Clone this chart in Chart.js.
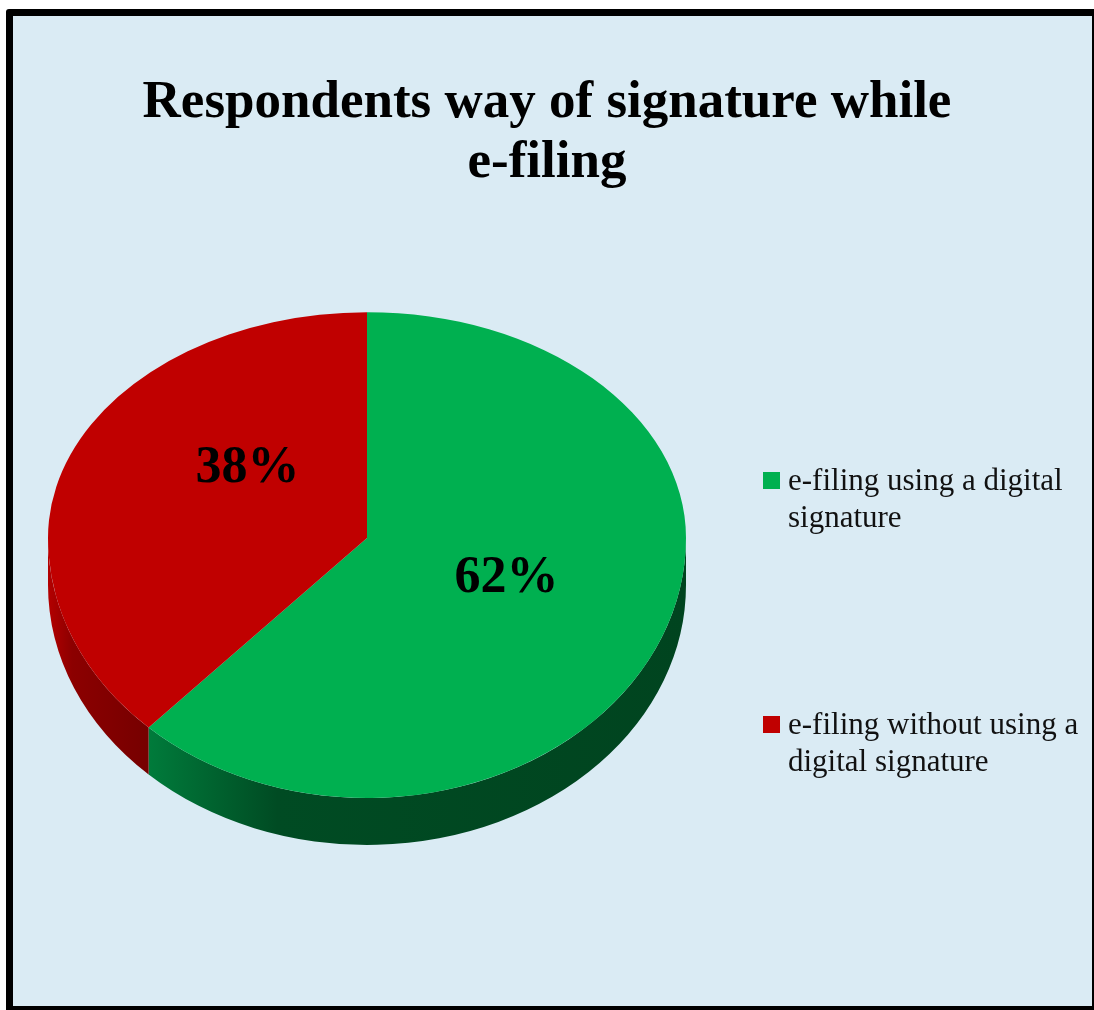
<!DOCTYPE html>
<html>
<head>
<meta charset="utf-8">
<script src="https://cdn.jsdelivr.net/npm/chart.js@4.4.1/dist/chart.umd.min.js"></script>
<style>
  html, body { margin: 0; padding: 0; background: #fff; }
  #frame {
    position: absolute; left: 6px; top: 9px;
    width: 1079px; height: 990px;
    border: 7px solid #000; border-radius: 3px;
    background: #daebf4;
  }
  #title {
    position: absolute; left: 0; top: 69px; width: 1094px;
    text-align: center; color: #000;
    font: bold 53px/60px "Liberation Serif", "Times New Roman", serif;
  }
  #chart { position: absolute; left: 0; top: 0; }
  #legend {
    position: absolute; left: 763px; top: 0;
    font: 31px/36.5px "Liberation Serif", "Times New Roman", serif; color: #111;
  }
  .item { position: absolute; left: 0; width: 330px; }
  .swatch { position: absolute; left: 0; top: 10px; width: 17px; height: 17px; }
  .text { margin-left: 25px; width: 300px; }
</style>
</head>
<body>
<div id="frame"></div>
<div id="title"></div>
<canvas id="chart" width="1094" height="1010"></canvas>
<div id="legend"></div>
<script>
// ## DATA ##
const chartTitle = ["Respondents way of signature while", "e-filing"];
const categories = [
  "e-filing using a digital signature",
  "e-filing without using a digital signature",
];
const shares = [62, 38];
const sliceColors = ["#00b050", "#c00000"];

// side wall shading, left to right across the visible rim
const sideShades = [
  ["#007b3b", "#004b23", "#00441f"],
  ["#b40000", "#8c0000", "#760000"],
];

// 3d look: tilt of the far and near half, and thickness of the disc
const tiltTop = 0.708;
const tiltBottom = 0.815;
const depth = 47;

// label placement: fraction of the radius plus a small shift per slice
const labelRadius = 0.45;
const labelShift = [[6, -3], [14, -32]];

document.getElementById("title").innerHTML = chartTitle.join("<br>");

// legend
const legendTop = 462;
const legendGap = 244;
const legend = document.getElementById("legend");
categories.forEach((name, i) => {
  const item = document.createElement("div");
  item.className = "item";
  item.style.top = legendTop + i * legendGap + "px";
  item.innerHTML =
    '<div class="swatch" style="background:' + sliceColors[i] + '"></div>' +
    '<div class="text">' + name + "</div>";
  legend.appendChild(item);
});

function sideWall(ctx, cx, cy, r, lo, hi, shades) {
  const x1 = cx + r * Math.cos(hi);
  const x2 = cx + r * Math.cos(lo);
  const grad = ctx.createLinearGradient(Math.min(x1, x2), 0, Math.max(x1, x2), 0);
  grad.addColorStop(0, shades[0]);
  grad.addColorStop(shades.length > 2 ? 0.24 : 0.5, shades[1]);
  grad.addColorStop(1, shades[shades.length - 1]);
  ctx.beginPath();
  ctx.ellipse(cx, cy, r, r * tiltBottom, 0, lo, hi);
  ctx.ellipse(cx, cy + depth, r, r * tiltBottom, 0, hi, lo, true);
  ctx.closePath();
  ctx.fillStyle = grad;
  ctx.fill();
}

const pie3d = {
  id: "pie3d",
  beforeDatasetsDraw(chart) {
    const ctx = chart.ctx;
    const arcs = chart.getDatasetMeta(0).data;
    const { x: cx, y: cy, outerRadius: r } = arcs[0];

    // the rim is only seen on the near half (0..PI)
    arcs.forEach((arc, i) => {
      [0, -2 * Math.PI].forEach((off) => {
        const lo = Math.max(arc.startAngle + off, 0);
        const hi = Math.min(arc.endAngle + off, Math.PI);
        if (hi > lo) sideWall(ctx, cx, cy, r, lo, hi, sideShades[i]);
      });
    });

    // far half of the top face, drawn by the chart itself
    ctx.save();
    ctx.beginPath();
    ctx.rect(0, 0, chart.width, cy);
    ctx.clip();
    ctx.translate(cx, cy);
    ctx.scale(1, tiltTop);
    ctx.translate(-cx, -cy);
  },
  afterDatasetsDraw(chart) {
    const ctx = chart.ctx;
    ctx.restore();
    const arcs = chart.getDatasetMeta(0).data;
    const { x: cx, y: cy, outerRadius: r } = arcs[0];

    // near half of the top face
    ctx.save();
    ctx.beginPath();
    ctx.rect(0, cy, chart.width, chart.height - cy);
    ctx.clip();
    ctx.translate(cx, cy);
    ctx.scale(1, tiltBottom);
    ctx.translate(-cx, -cy);
    arcs.forEach((arc) => arc.draw(ctx));
    ctx.restore();

    // percentage labels
    ctx.save();
    ctx.font = 'bold 52px "Liberation Serif", "Times New Roman", serif';
    ctx.fillStyle = "#000";
    ctx.textAlign = "center";
    ctx.textBaseline = "middle";
    arcs.forEach((arc, i) => {
      const mid = (arc.startAngle + arc.endAngle) / 2;
      const k = Math.sin(mid) < 0 ? tiltTop : tiltBottom;
      const x = cx + Math.cos(mid) * r * labelRadius + labelShift[i][0];
      const y = cy + Math.sin(mid) * r * labelRadius * k + labelShift[i][1];
      ctx.fillText(shares[i] + "%", x, y);
    });
    ctx.restore();
  },
};

const ctx = document.getElementById("chart").getContext("2d");
new Chart(ctx, {
  type: "pie",
  data: {
    labels: categories,
    datasets: [
      {
        data: shares,
        backgroundColor: sliceColors,
        borderWidth: 0,
        hoverBorderWidth: 0,
        hoverOffset: 0,
        offset: 0,
        clip: false,
      },
    ],
  },
  options: {
    responsive: false,
    animation: false,
    events: [],
    layout: {
      padding: { left: 48, right: 408, top: 219, bottom: 153 },
    },
    plugins: {
      legend: { display: false },
      tooltip: { enabled: false },
    },
  },
  plugins: [pie3d],
});
</script>
</body>
</html>
